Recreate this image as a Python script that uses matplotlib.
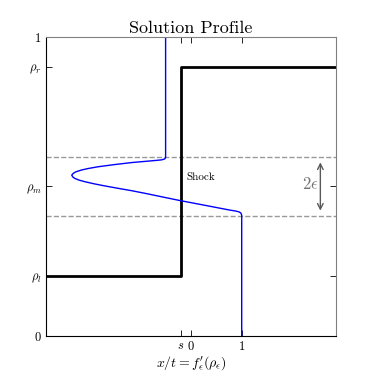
import matplotlib
matplotlib.use("Agg")
import matplotlib.pyplot as plt

plt.rcParams['mathtext.fontset'] = 'cm'
plt.rcParams['font.family'] = ['cmr10', 'DejaVu Serif']
plt.rcParams['axes.unicode_minus'] = False
plt.rcParams['axes.formatter.use_mathtext'] = True

# states and shock
rho_l, rho_m, rho_r = 0.2, 0.5, 0.9
eps = 0.1
s = -0.2
x_min, x_max = -2.86, 2.86

# regularized profile (x/t, rho)
prof_x = [-0.50, -0.50, -0.52, -0.58, -0.70, -1.17, -1.52, -1.83, -2.03, -2.16,
          -2.27, -2.32, -2.35, -2.33, -2.29, -2.20, -2.09, -1.91, -1.70, -1.44,
          -1.17, -0.90, -0.645, -0.217, 0.31, 0.77, 0.88, 0.95, 0.985, 1.0,
          1.0]
prof_y = [1.0, 0.596, 0.592, 0.589, 0.587, 0.580, 0.573, 0.566, 0.560, 0.555,
          0.549, 0.544, 0.538, 0.532, 0.527, 0.521, 0.516, 0.509, 0.502, 0.494,
          0.486, 0.477, 0.468, 0.453, 0.436, 0.421, 0.418, 0.415, 0.411, 0.404,
          0.0]

shock_x = [x_min, s, s, x_max]
shock_y = [rho_l, rho_l, rho_r, rho_r]

fig = plt.figure(figsize=(3.73, 3.73), dpi=100)
ax = fig.add_axes([0.123, 0.099, 0.778, 0.802])

ax.axhline(rho_m + eps, color='0.6', ls='--', lw=1)
ax.axhline(rho_m - eps, color='0.6', ls='--', lw=1)
ax.plot(shock_x, shock_y, color='k', lw=2)
ax.plot(prof_x, prof_y, color='b', lw=1)

ax.annotate('', xy=(2.55, rho_m + eps - 0.01), xytext=(2.55, rho_m - eps + 0.01),
            arrowprops=dict(arrowstyle='<->', color='0.35', lw=1))
ax.text(2.35, rho_m + 0.01, r'$2\epsilon$', color='0.45', fontsize=12,
        ha='center', va='center')
ax.text(s + 0.1, 0.53, 'Shock', fontsize=8, ha='left', va='center')

ax.set_xlim(x_min, x_max)
ax.set_ylim(0, 1)
ax.set_xticks([s, 0, 1])
ax.set_xticklabels([r'$s$', r'$0$', r'$1$'], fontsize=9)
ax.set_yticks([0, rho_l, rho_m, rho_r, 1])
ax.set_yticklabels([r'$0$', r'$\rho_l$', r'$\rho_m$', r'$\rho_r$', r'$1$'], fontsize=9)
ax.tick_params(direction='in', top=True, right=True, length=4, width=0.6,
               pad=3)
for side in ['top', 'right']:
    ax.spines[side].set_color('0.5')
for side in ['left', 'bottom']:
    ax.spines[side].set_color('k')

ax.set_xlabel(r"$x/t = f_\epsilon^{\prime}(\rho_\epsilon)$", fontsize=10, labelpad=1)
ax.set_title('Solution Profile', fontsize=13, pad=3)

fig.savefig('out.png', dpi=100)
